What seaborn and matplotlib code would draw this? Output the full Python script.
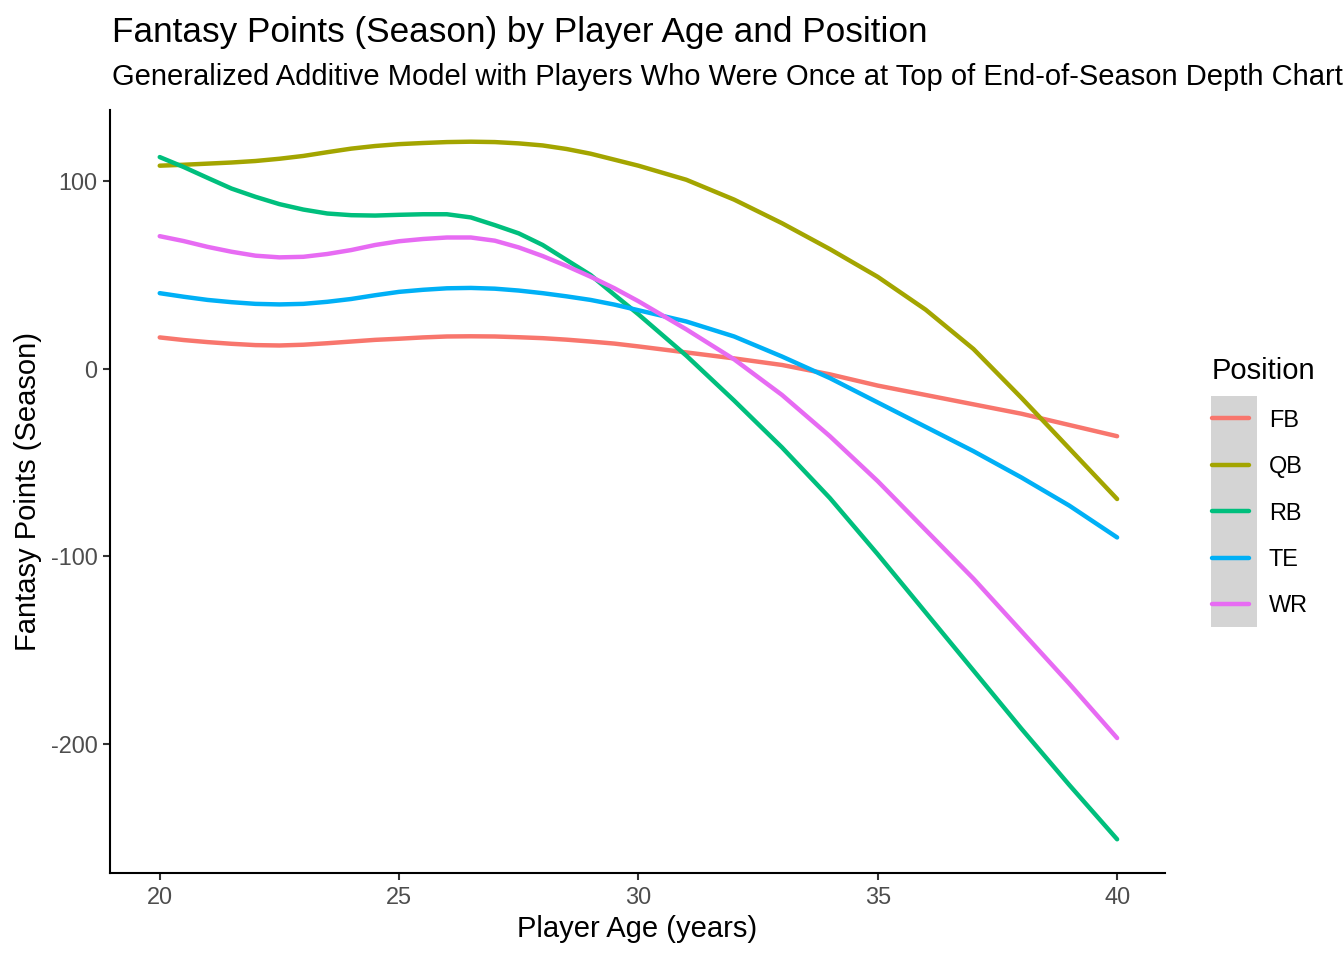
import matplotlib
matplotlib.use('Agg')
import matplotlib.pyplot as plt
from matplotlib.patches import Rectangle
import seaborn as sns
import pandas as pd

# ages: half years up to 30, whole years after
ages = [20, 20.5, 21, 21.5, 22, 22.5, 23, 23.5, 24, 24.5, 25, 25.5, 26, 26.5,
        27, 27.5, 28, 28.5, 29, 29.5, 30, 31, 32, 33, 34, 35, 36, 37, 38, 39, 40]

fb = [16.7, 15.3, 14.2, 13.3, 12.6, 12.4, 12.8, 13.6, 14.5, 15.4, 16.0, 16.7, 17.2, 17.3,
      17.2, 16.8, 16.3, 15.5, 14.5, 13.4, 11.9, 8.7, 5.5, 2.0, -3.0, -9.0, -14.0, -19.0, -24.0, -30.0, -36.0]
qb = [108.3, 108.8, 109.4, 110.0, 110.8, 112.0, 113.5, 115.5, 117.4, 118.8, 119.8, 120.4, 120.9, 121.1,
      120.9, 120.2, 119.1, 117.2, 114.7, 111.5, 108.3, 100.8, 90.2, 77.6, 63.8, 49.0, 31.5, 10.5, -15.5, -42.5, -69.5]
rb = [112.9, 107.6, 101.8, 96.1, 91.7, 87.8, 84.9, 82.8, 81.9, 81.7, 82.1, 82.4, 82.4, 80.7,
      76.6, 72.2, 66.0, 58.0, 50.0, 39.4, 29.0, 7.0, -17.0, -42.0, -69.0, -99.0, -130.0, -161.0, -192.0, -222.0, -251.0]
te = [40.3, 38.4, 36.7, 35.5, 34.6, 34.3, 34.6, 35.7, 37.2, 39.2, 41.0, 42.1, 42.9, 43.1,
      42.7, 41.7, 40.3, 38.6, 36.7, 34.2, 31.2, 25.2, 17.2, 6.5, -5.0, -18.0, -31.0, -44.0, -58.0, -73.0, -90.0]
wr = [70.7, 68.1, 65.0, 62.4, 60.3, 59.4, 59.7, 61.2, 63.3, 66.0, 68.0, 69.2, 70.0, 70.0,
      68.3, 64.7, 60.1, 54.8, 49.1, 42.9, 36.0, 21.0, 5.0, -14.0, -36.0, -60.0, -86.0, -112.0, -140.0, -168.0, -197.0]

positions = ['FB', 'QB', 'RB', 'TE', 'WR']
colors = ['#F8766D', '#A3A500', '#00BF7D', '#00B0F6', '#E76BF3']

df = pd.concat([
    pd.DataFrame({'age': ages, 'points': vals, 'Position': pos})
    for pos, vals in zip(positions, [fb, qb, rb, te, wr])
])

sns.set_theme(style='ticks')
plt.rcParams['font.family'] = ['Liberation Sans', 'DejaVu Sans']
plt.rcParams['axes.unicode_minus'] = False
plt.rcParams['text.color'] = 'black'
plt.rcParams['axes.labelcolor'] = 'black'

fig = plt.figure(figsize=(13.44, 9.6), dpi=100)
ax = fig.add_axes([0.0818, 0.0906, 0.785, 0.7948])

sns.lineplot(data=df, x='age', y='points', hue='Position',
             palette=dict(zip(positions, colors)), linewidth=3.2, ax=ax)

ax.set_xlim(18.96, 41.0)
ax.set_ylim(-269, 138)
ax.set_xticks([20, 25, 30, 35, 40])
ax.set_yticks([100, 0, -100, -200])
for s in ['top', 'right']:
    ax.spines[s].set_visible(False)
for s in ['left', 'bottom']:
    ax.spines[s].set_linewidth(1.5)
    ax.spines[s].set_color('black')
ax.tick_params(axis='both', length=5, width=1.5, color='#333333',
               labelsize=16.9, labelcolor='#4D4D4D', pad=4)

ax.set_xlabel('Player Age (years)', fontsize=21, labelpad=5)
ax.set_ylabel('Fantasy Points (Season)', fontsize=21, labelpad=6)

fig.text(0.0833, 0.966, 'Fantasy Points (Season) by Player Age and Position',
         fontsize=25.3, va='center', ha='left')
fig.text(0.0833, 0.920, 'Generalized Additive Model with Players Who Were Once at Top of End-of-Season Depth Chart',
         fontsize=21, va='center', ha='left')

handles, labels = ax.get_legend_handles_labels()
leg = ax.legend(handles, labels, title='Position', loc='upper left',
                bbox_to_anchor=(0.9018, 0.628), bbox_transform=fig.transFigure,
                frameon=False, fontsize=16.9, title_fontsize=21,
                borderpad=0, borderaxespad=0, handlelength=1.57,
                handletextpad=0.85, labelspacing=1.0, alignment='left')
for line in leg.get_lines():
    line.set_linewidth(3.2)

fig.add_artist(Rectangle((0.901, 0.347), 0.034, 0.240, transform=fig.transFigure,
                         facecolor='#D4D4D4', edgecolor='none', zorder=-1))

fig.savefig('out.png', dpi=100, facecolor='white')
